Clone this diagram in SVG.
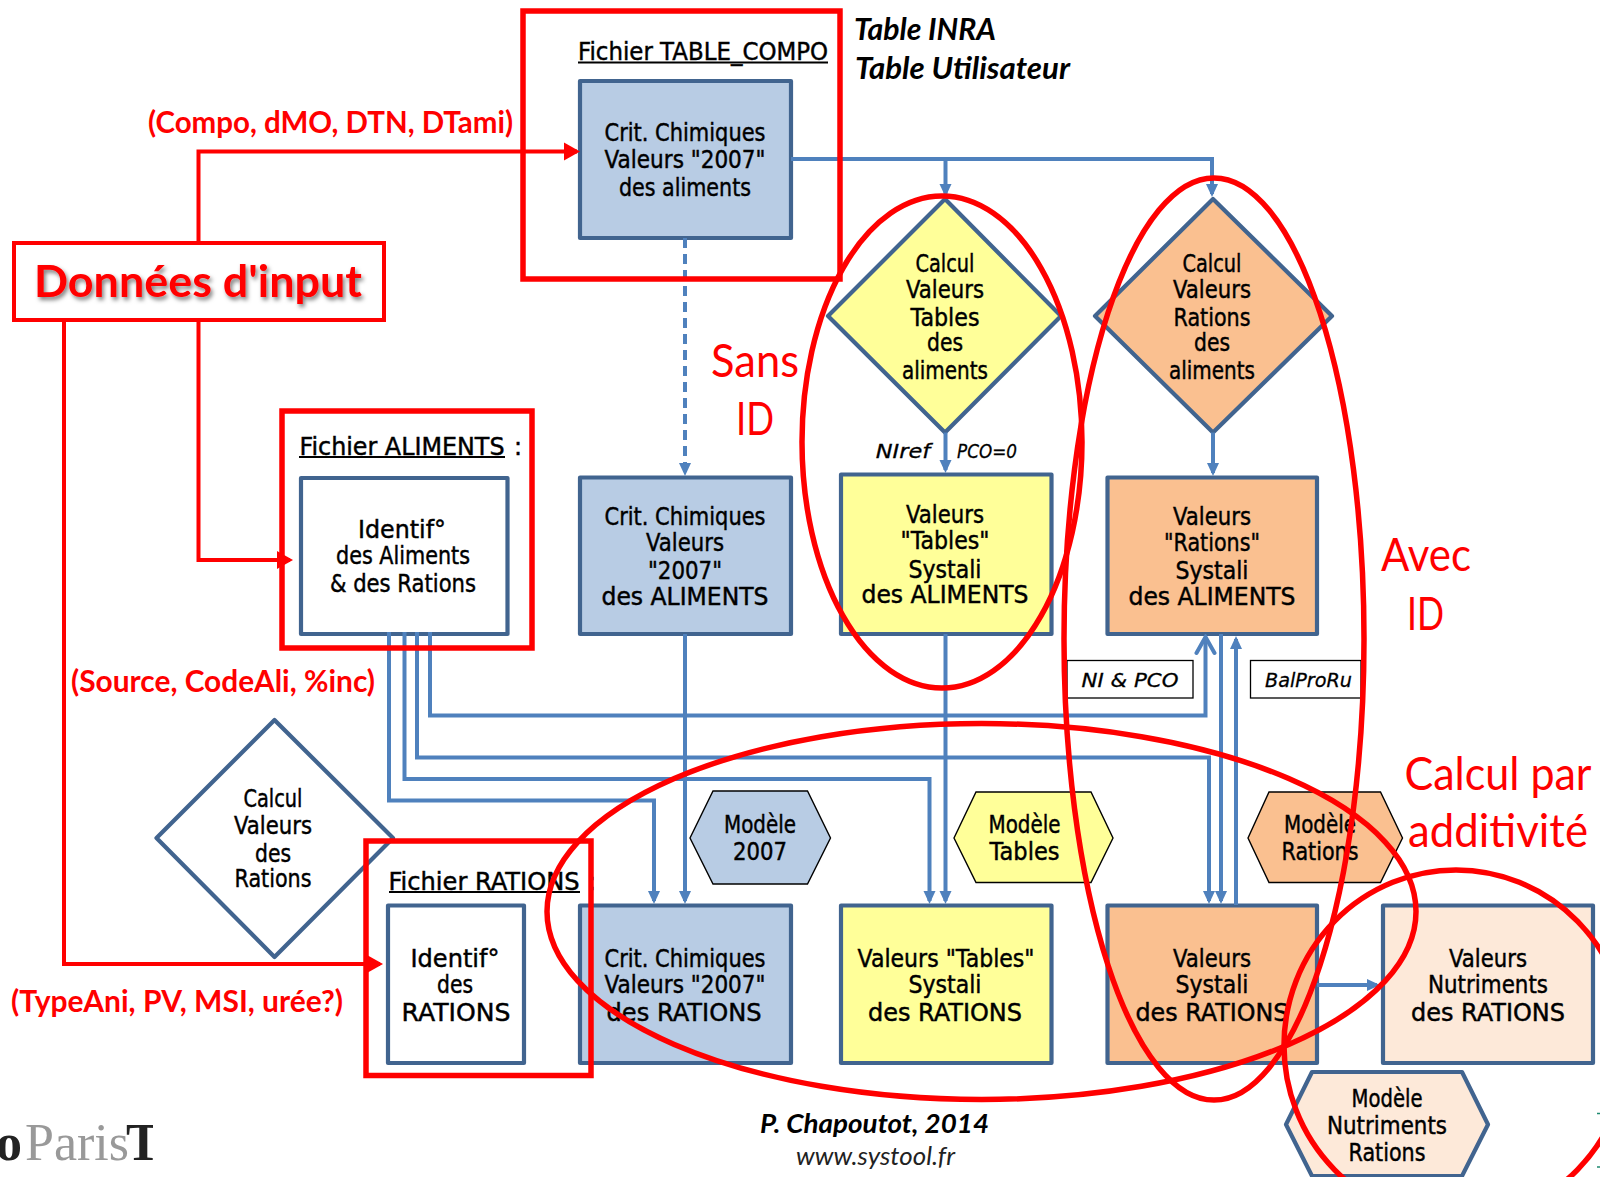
<svg xmlns="http://www.w3.org/2000/svg" width="1600" height="1177" viewBox="0 0 1600 1177">
<style>
text{text-anchor:middle}
.c{font-family:"DejaVu Sans",sans-serif;font-size:24px;fill:#000;stroke:#000;stroke-width:.45px;transform:translateY(1px)}
.ci{font-family:"DejaVu Sans",sans-serif;font-size:20px;font-style:italic;fill:#000;stroke:#000;stroke-width:.3px}
.red{font-family:Lato,"Liberation Sans",sans-serif;fill:#f00}
.rb{font-size:30px;font-weight:700}
.big{font-size:47px;transform:translateY(1px)}
.k{font-family:Lato,"Liberation Sans",sans-serif;font-weight:700;font-style:italic;fill:#000}
.box{stroke:#41648f;stroke-width:4.2;stroke-linejoin:round}
.hex{stroke:#000;stroke-width:1.4}
.blu{fill:#b8cce4}.yel{fill:#ffff99}.ora{fill:#fac090}.pea{fill:#fde9d9}.whi{fill:#fff}
.frame{fill:none;stroke:#f00;stroke-width:5.5}
.oval{fill:none;stroke:#f00;stroke-width:5.5}
.bl{fill:none;stroke:#4f81bd;stroke-width:4}
.rl{fill:none;stroke:#f00;stroke-width:4}
.ul{stroke:#000;stroke-width:2}
.tag{fill:#fff;stroke:#000;stroke-width:1.3}
</style>
<defs>
<marker id="ab" markerUnits="userSpaceOnUse" markerWidth="14" markerHeight="14" viewBox="0 0 14 14" refX="10" refY="7" orient="auto"><path d="M0,1 L13,7 L0,13 Z" fill="#4f81bd"/></marker>
<marker id="ao" markerUnits="userSpaceOnUse" markerWidth="22" markerHeight="24" viewBox="0 0 22 24" refX="19" refY="12" orient="auto"><path d="M3,3 L19,12 L3,21" fill="none" stroke="#4f81bd" stroke-width="4" stroke-linecap="round"/></marker>
<marker id="ar" markerUnits="userSpaceOnUse" markerWidth="16" markerHeight="20" viewBox="0 0 16 20" refX="13" refY="10" orient="auto"><path d="M0,1 L16,10 L0,19 Z" fill="#f00"/></marker>
<filter id="sh" x="-5%" y="-20%" width="110%" height="150%"><feDropShadow dx="2" dy="3" stdDeviation="2" flood-color="#000" flood-opacity="0.5"/></filter>
<clipPath id="logo"><rect x="0" y="1100" width="153" height="77"/></clipPath>
</defs>

<g id="blocks">
<g id="crit-aliments-top"><rect class="box blu" x="580" y="81" width="211" height="157"/>
<text class="c" x="685" y="140" textLength="161" lengthAdjust="spacingAndGlyphs">Crit. Chimiques</text>
<text class="c" x="685" y="166.500" textLength="161" lengthAdjust="spacingAndGlyphs">Valeurs "2007"</text>
<text class="c" x="685" y="195" textLength="132" lengthAdjust="spacingAndGlyphs">des aliments</text></g>
<g id="titre-compo"><text class="c" x="703" y="59" textLength="250" lengthAdjust="spacingAndGlyphs">Fichier TABLE_COMPO</text><line class="ul" x1="578" y1="62.500" x2="828" y2="62.500"/></g>

<g id="calcul-tables"><polygon class="box yel" points="945,199 1061,316 945,432.500 828,316"/>
<text class="c" x="945" y="270.500" textLength="59" lengthAdjust="spacingAndGlyphs">Calcul</text>
<text class="c" x="945" y="296.500" textLength="78" lengthAdjust="spacingAndGlyphs">Valeurs</text>
<text class="c" x="945" y="324.500" textLength="69" lengthAdjust="spacingAndGlyphs">Tables</text>
<text class="c" x="945" y="350" textLength="36" lengthAdjust="spacingAndGlyphs">des</text>
<text class="c" x="945" y="378" textLength="86" lengthAdjust="spacingAndGlyphs">aliments</text></g>

<g id="calcul-rations-aliments"><polygon class="box ora" points="1213,199 1332,316 1213,432.500 1095,316"/>
<text class="c" x="1212" y="270.500" textLength="59" lengthAdjust="spacingAndGlyphs">Calcul</text>
<text class="c" x="1212" y="296.500" textLength="78" lengthAdjust="spacingAndGlyphs">Valeurs</text>
<text class="c" x="1212" y="324.500" textLength="77" lengthAdjust="spacingAndGlyphs">Rations</text>
<text class="c" x="1212" y="350" textLength="36" lengthAdjust="spacingAndGlyphs">des</text>
<text class="c" x="1212" y="378" textLength="86" lengthAdjust="spacingAndGlyphs">aliments</text></g>

<g id="identif-aliments"><rect class="box whi" x="301" y="478" width="206.500" height="156"/>
<text class="c" x="402" y="537" textLength="88" lengthAdjust="spacingAndGlyphs">Identif°</text>
<text class="c" x="403" y="563" textLength="134" lengthAdjust="spacingAndGlyphs">des Aliments</text>
<text class="c" x="403" y="591" textLength="146" lengthAdjust="spacingAndGlyphs">&amp; des Rations</text></g>
<g id="titre-aliments"><text class="c" x="402" y="454" textLength="205" lengthAdjust="spacingAndGlyphs">Fichier ALIMENTS</text><text class="c" x="518" y="454">:</text><line class="ul" x1="299" y1="457" x2="505" y2="457"/></g>

<g id="crit-aliments"><rect class="box blu" x="580" y="477.500" width="211" height="156.500"/>
<text class="c" x="685" y="524" textLength="161" lengthAdjust="spacingAndGlyphs">Crit. Chimiques</text>
<text class="c" x="685" y="550" textLength="78" lengthAdjust="spacingAndGlyphs">Valeurs</text>
<text class="c" x="685" y="578" textLength="74" lengthAdjust="spacingAndGlyphs">"2007"</text>
<text class="c" x="685" y="604" textLength="167" lengthAdjust="spacingAndGlyphs">des ALIMENTS</text></g>

<g id="valeurs-tables-aliments"><rect class="box yel" x="841" y="474.500" width="210.500" height="159.500"/>
<text class="c" x="945" y="522" textLength="78" lengthAdjust="spacingAndGlyphs">Valeurs</text>
<text class="c" x="945" y="548" textLength="89" lengthAdjust="spacingAndGlyphs">"Tables"</text>
<text class="c" x="945" y="577" textLength="73" lengthAdjust="spacingAndGlyphs">Systali</text>
<text class="c" x="945" y="602" textLength="167" lengthAdjust="spacingAndGlyphs">des ALIMENTS</text></g>

<g id="valeurs-rations-aliments"><rect class="box ora" x="1107.500" y="477.500" width="209.500" height="156.500"/>
<text class="c" x="1212" y="524" textLength="78" lengthAdjust="spacingAndGlyphs">Valeurs</text>
<text class="c" x="1212" y="550" textLength="96" lengthAdjust="spacingAndGlyphs">"Rations"</text>
<text class="c" x="1212" y="578" textLength="73" lengthAdjust="spacingAndGlyphs">Systali</text>
<text class="c" x="1212" y="604" textLength="167" lengthAdjust="spacingAndGlyphs">des ALIMENTS</text></g>

<g id="calcul-rations"><polygon class="box whi" points="274.500,720 393,838 274.500,957 156.500,838"/>
<text class="c" x="273" y="806" textLength="59" lengthAdjust="spacingAndGlyphs">Calcul</text>
<text class="c" x="273" y="832.500" textLength="78" lengthAdjust="spacingAndGlyphs">Valeurs</text>
<text class="c" x="273" y="860.500" textLength="36" lengthAdjust="spacingAndGlyphs">des</text>
<text class="c" x="273" y="886" textLength="77" lengthAdjust="spacingAndGlyphs">Rations</text></g>

<g id="modele-2007"><polygon class="hex blu" points="690,838 713,791 807.500,791 830.500,838 807.500,884 713,884"/>
<text class="c" x="760" y="832" textLength="72" lengthAdjust="spacingAndGlyphs">Modèle</text>
<text class="c" x="760" y="859" textLength="54" lengthAdjust="spacingAndGlyphs">2007</text></g>
<g id="modele-tables"><polygon class="hex yel" points="954,838 976,792 1091,792 1113,838 1091,882.500 976,882.500"/>
<text class="c" x="1024.500" y="832" textLength="72" lengthAdjust="spacingAndGlyphs">Modèle</text>
<text class="c" x="1024.500" y="859" textLength="70" lengthAdjust="spacingAndGlyphs">Tables</text></g>
<g id="modele-rations"><polygon class="hex ora" points="1248,838 1269,792 1380.500,792 1402.500,838 1380.500,882.500 1269,882.500"/>
<text class="c" x="1320" y="832" textLength="72" lengthAdjust="spacingAndGlyphs">Modèle</text>
<text class="c" x="1320" y="859" textLength="77" lengthAdjust="spacingAndGlyphs">Rations</text></g>

<g id="identif-rations"><rect class="box whi" x="388" y="905.500" width="136" height="157.500"/>
<text class="c" x="455" y="966" textLength="89" lengthAdjust="spacingAndGlyphs">Identif°</text>
<text class="c" x="455" y="992" textLength="36" lengthAdjust="spacingAndGlyphs">des</text>
<text class="c" x="456" y="1020" textLength="109" lengthAdjust="spacingAndGlyphs">RATIONS</text></g>
<g id="titre-rations"><text class="c" x="484" y="889" textLength="191" lengthAdjust="spacingAndGlyphs">Fichier RATIONS</text><text class="c" x="592" y="889">:</text><line class="ul" x1="389" y1="892" x2="580" y2="892"/></g>

<g id="crit-rations"><rect class="box blu" x="580" y="905.500" width="211" height="157.500"/>
<text class="c" x="685" y="966" textLength="161" lengthAdjust="spacingAndGlyphs">Crit. Chimiques</text>
<text class="c" x="685" y="992" textLength="161" lengthAdjust="spacingAndGlyphs">Valeurs "2007"</text>
<text class="c" x="684" y="1020" textLength="155" lengthAdjust="spacingAndGlyphs">des RATIONS</text></g>

<g id="valeurs-tables-rations"><rect class="box yel" x="841" y="905.500" width="210.500" height="157.500"/>
<text class="c" x="946" y="966" textLength="177" lengthAdjust="spacingAndGlyphs">Valeurs "Tables"</text>
<text class="c" x="945" y="992" textLength="73" lengthAdjust="spacingAndGlyphs">Systali</text>
<text class="c" x="945" y="1020" textLength="154" lengthAdjust="spacingAndGlyphs">des RATIONS</text></g>

<g id="valeurs-systali-rations"><rect class="box ora" x="1107.500" y="905.500" width="209.500" height="157.500"/>
<text class="c" x="1212" y="966" textLength="78" lengthAdjust="spacingAndGlyphs">Valeurs</text>
<text class="c" x="1212" y="992" textLength="73" lengthAdjust="spacingAndGlyphs">Systali</text>
<text class="c" x="1212" y="1020" textLength="153" lengthAdjust="spacingAndGlyphs">des RATIONS</text></g>

<g id="valeurs-nutriments"><rect class="box pea" x="1383" y="905.500" width="210" height="157.500"/>
<text class="c" x="1488" y="966" textLength="78" lengthAdjust="spacingAndGlyphs">Valeurs</text>
<text class="c" x="1488" y="992" textLength="120" lengthAdjust="spacingAndGlyphs">Nutriments</text>
<text class="c" x="1488" y="1020" textLength="154" lengthAdjust="spacingAndGlyphs">des RATIONS</text></g>

<g id="modele-nutriments"><polygon class="box pea" points="1286,1124.500 1312,1072 1462,1072 1488,1124.500 1462,1176 1312,1176"/>
<text class="c" x="1387" y="1106" textLength="71" lengthAdjust="spacingAndGlyphs">Modèle</text>
<text class="c" x="1387" y="1132.500" textLength="120" lengthAdjust="spacingAndGlyphs">Nutriments</text>
<text class="c" x="1387" y="1160" textLength="77" lengthAdjust="spacingAndGlyphs">Rations</text></g>

<g id="tag-ni-pco"><rect class="tag" x="1067" y="660.500" width="126" height="37.500"/><text class="ci" x="1130" y="686.500" textLength="97" lengthAdjust="spacingAndGlyphs">NI &amp; PCO</text></g>
<g id="tag-balproru"><rect class="tag" x="1250.500" y="660.500" width="110.500" height="37.500"/><text class="ci" x="1308.500" y="686.500" textLength="87" lengthAdjust="spacingAndGlyphs">BalProRu</text></g>
<g id="label-niref"><text class="ci" x="903" y="458" textLength="54.500" lengthAdjust="spacingAndGlyphs">NIref</text></g>
<g id="label-pco"><text class="ci" x="987" y="458" textLength="60" lengthAdjust="spacingAndGlyphs">PCO=0</text></g>
</g>

<g id="connectors">
<path class="bl" d="M791,159 H1212 V194" marker-end="url(#ab)"/>
<path class="bl" d="M945.500,159 V194" marker-end="url(#ab)"/>
<path class="bl" d="M685,238 V473" stroke-dasharray="10 6" marker-end="url(#ab)"/>
<path class="bl" d="M945.500,432.500 V470" marker-end="url(#ab)"/>
<path class="bl" d="M1213,432.500 V473" marker-end="url(#ab)"/>
<path class="bl" d="M430,632 V715.500 H1205.500 V637" marker-end="url(#ao)"/>
<path class="bl" d="M417,632 V757.500 H1209 V901" marker-end="url(#ab)"/>
<path class="bl" d="M404.500,632 V779 H929.500 V901" marker-end="url(#ab)"/>
<path class="bl" d="M389,632 V800.500 H654 V901" marker-end="url(#ab)"/>
<path class="bl" d="M685,634 V901" marker-end="url(#ab)"/>
<path class="bl" d="M945.500,634 V901" marker-end="url(#ab)"/>
<path class="bl" d="M1221,634 V901" marker-end="url(#ab)"/>
<path class="bl" d="M1236,905 V639" marker-end="url(#ab)"/>
<path class="bl" d="M1317,985 H1377" marker-end="url(#ab)"/>
<path class="rl" d="M198.500,242 V151.500 H577" marker-end="url(#ar)"/>
<path class="rl" d="M198.500,320 V560 H290" marker-end="url(#ar)"/>
<path class="rl" d="M64,320 V964 H380" marker-end="url(#ar)"/>
</g>

<g id="donnees-input"><rect x="14" y="243" width="370" height="77" fill="none" stroke="#f00" stroke-width="4"/>
<text class="red" filter="url(#sh)" x="198" y="296.500" font-size="44" font-weight="700" textLength="328" lengthAdjust="spacingAndGlyphs">Données d'input</text></g>

<g id="cadres-rouges">
<rect class="frame" x="523" y="11" width="317" height="268"/>
<rect class="frame" x="282" y="411" width="250" height="237"/>
<rect class="frame" x="366" y="841" width="225" height="234.500"/>
<ellipse class="oval" cx="942" cy="442" rx="140" ry="246"/>
<ellipse class="oval" cx="1214" cy="639" rx="150" ry="461"/>
<ellipse class="oval" cx="981.500" cy="911.500" rx="434.500" ry="188"/>
<ellipse class="oval" cx="1456" cy="1045.500" rx="172" ry="175.500"/>
</g>

<g id="annotations">
<text class="red rb" x="330.500" y="133" textLength="365" lengthAdjust="spacingAndGlyphs">(Compo, dMO, DTN, DTami)</text>
<text class="red rb" x="223" y="692" textLength="304" lengthAdjust="spacingAndGlyphs">(Source, CodeAli, %inc)</text>
<text class="red rb" x="177" y="1011.500" textLength="332" lengthAdjust="spacingAndGlyphs">(TypeAni, PV, MSI, urée?)</text>
<text class="red big" x="755" y="376" textLength="88" lengthAdjust="spacingAndGlyphs">Sans</text>
<text class="red big" x="755" y="433.500" textLength="38" lengthAdjust="spacingAndGlyphs">ID</text>
<text class="red big" x="1426" y="570" textLength="90" lengthAdjust="spacingAndGlyphs">Avec</text>
<text class="red big" x="1425.500" y="629" textLength="37" lengthAdjust="spacingAndGlyphs">ID</text>
<text class="red big" x="1498" y="789" textLength="187" lengthAdjust="spacingAndGlyphs">Calcul par</text>
<text class="red big" x="1498" y="846" textLength="180" lengthAdjust="spacingAndGlyphs">additivité</text>
<text class="k" x="925" y="40" font-size="30" textLength="142" lengthAdjust="spacingAndGlyphs">Table INRA</text>
<text class="k" x="962.500" y="79" font-size="30" textLength="215" lengthAdjust="spacingAndGlyphs">Table Utilisateur</text>
<text class="k" x="874.500" y="1132.500" font-size="27" textLength="229" lengthAdjust="spacingAndGlyphs">P. Chapoutot, 2014</text>
<text x="875.500" y="1165" font-family="Lato,'Liberation Sans',sans-serif" font-style="italic" font-size="25" fill="#222" textLength="159" lengthAdjust="spacingAndGlyphs">www.systool.fr</text>
<g clip-path="url(#logo)" font-family="'Liberation Serif',serif" font-size="52"><text x="-4" y="1159.500" style="text-anchor:start" fill="#222" font-weight="700">o<tspan x="25" fill="#999" font-weight="400">Paris</tspan><tspan x="126" fill="#222" font-weight="700">T</tspan></text></g>
<path d="M1597,1113.500 H1600 M1597,1167 H1600" stroke="#1f8a70" stroke-width="1.500"/>
</g>
</svg>
